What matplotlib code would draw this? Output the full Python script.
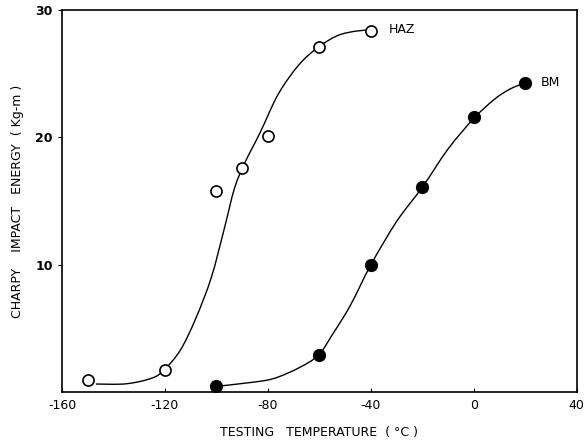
import matplotlib
matplotlib.use("Agg")
import matplotlib.pyplot as plt
from matplotlib.path import Path
from matplotlib.patches import PathPatch

# measured points (testing temperature in C, Charpy energy in kg-m)
haz_temp = [-150, -120, -100, -90, -80, -60, -40]
haz_energy = [0.95, 1.7, 15.8, 17.6, 20.1, 27.1, 28.4]
bm_temp = [-100, -60, -40, -20, 0, 20]
bm_energy = [0.45, 2.9, 10.0, 16.1, 21.6, 24.3]

# hand-drawn trend curves
haz_curve_t = [-146.8, -135, -125, -120.3, -114, -108, -102, -97, -93, -89,
               -83, -76, -68, -60.4, -53, -46, -40]
haz_curve_e = [0.63, 0.65, 1.1, 1.75, 3.3, 5.8, 9.0, 12.8, 16.0, 18.0,
               20.4, 23.4, 25.7, 27.1, 28.0, 28.35, 28.45]
bm_curve_t = [-100, -88, -78, -68, -60.4, -55, -48, -40, -30, -20,
              -10, 0, 8, 14, 20]
bm_curve_e = [0.45, 0.72, 1.05, 1.9, 2.9, 4.5, 6.8, 10.0, 13.4, 16.1,
              19.1, 21.5, 23.0, 23.8, 24.3]

x_ticks = [-160, -120, -80, -40, 0, 40]
y_ticks = [10, 20, 30]


def smooth_path(xs, ys):
    # draw the traced points as a Catmull-Rom style bezier so the ink line looks hand drawn
    pts = list(zip(xs, ys))
    verts = [pts[0]]
    codes = [Path.MOVETO]
    for i in range(len(pts) - 1):
        p0 = pts[max(i - 1, 0)]
        p1 = pts[i]
        p2 = pts[i + 1]
        p3 = pts[min(i + 2, len(pts) - 1)]
        c1 = (p1[0] + (p2[0] - p0[0]) / 6, p1[1] + (p2[1] - p0[1]) / 6)
        c2 = (p2[0] - (p3[0] - p1[0]) / 6, p2[1] - (p3[1] - p1[1]) / 6)
        verts += [c1, c2, p2]
        codes += [Path.CURVE4] * 3
    return Path(verts, codes)


fig = plt.figure(figsize=(5.85, 4.43), dpi=100)
ax = fig.add_axes([0.106, 0.115, 0.880, 0.862])

for ct, ce in [(haz_curve_t, haz_curve_e), (bm_curve_t, bm_curve_e)]:
    ax.add_patch(PathPatch(smooth_path(ct, ce), fill=False, ec="black", lw=1.0))

ax.plot(haz_temp, haz_energy, ls="none", marker="o", ms=8,
        mfc="white", mec="black", mew=1.2)
ax.plot(bm_temp, bm_energy, ls="none", marker="o", ms=8.5,
        mfc="black", mec="black")

ax.text(-33, 28.5, "HAZ", fontsize=9, va="center", ha="left")
ax.text(26, 24.3, "BM", fontsize=9, va="center", ha="left")

ax.set_xlim(-160, 40)
ax.set_ylim(0, 30)
ax.set_xticks(x_ticks)
ax.set_xticklabels([str(t) for t in x_ticks])
ax.set_yticks(y_ticks)
ax.tick_params(axis="x", direction="in", length=3, labelsize=9, pad=5)
ax.tick_params(axis="y", direction="out", length=3, labelsize=9)
for lab in ax.get_yticklabels():
    lab.set_fontweight("bold")
for s in ax.spines.values():
    s.set_linewidth(1.2)

ax.set_xlabel("TESTING   TEMPERATURE  ( °C )", fontsize=9, labelpad=10)
ax.set_ylabel("CHARPY    IMPACT   ENERGY  ( Kg-m )", fontsize=9, labelpad=8)

fig.savefig("out.png", dpi=100)
